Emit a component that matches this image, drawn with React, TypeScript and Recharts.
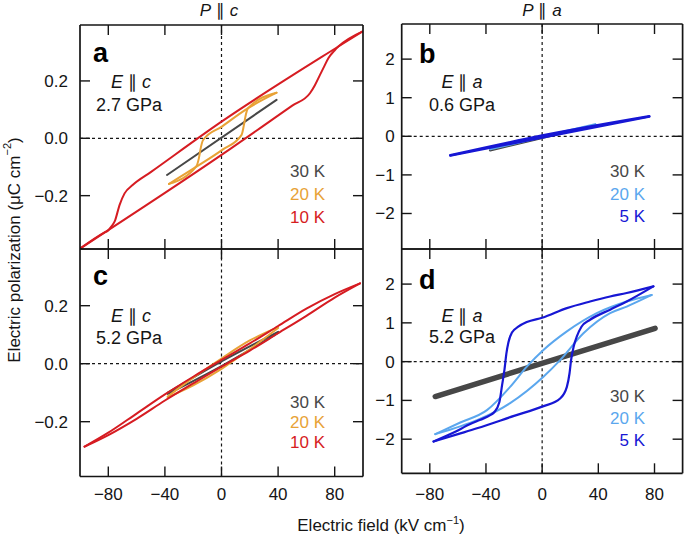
import React from 'react';
import { LineChart, Line, XAxis, YAxis, ReferenceLine } from 'recharts';

type Pt = [number, number];

// ---------- tick values ----------
const xTicks = [-80, -40, 0, 40, 80];
const yTicksC = [-0.2, 0, 0.2];
const yTicksA = [-2, -1, 0, 1, 2];

// ---------- panel a : P || c, E || c, 2.7 GPa ----------
const a30K: Pt[] = [[-38.5, -0.128], [38.9, 0.134]];
const a20KHi: Pt[] = [[-37.1, -0.159], [-17.7, -0.097], [-16, -0.07], [-14.5, -0.03], [-13, -0.006], [0, 0.04], [18.8, 0.105], [38.9, 0.159]];
const a20KLo: Pt[] = [[-37.1, -0.159], [-17.7, -0.099], [0, -0.042], [14.2, 0.012], [15.8, 0.045], [17.3, 0.085], [18.8, 0.105], [38.9, 0.159]];
const a10KHi: Pt[] = [[-99.5, -0.383], [-82.6, -0.328], [-80.3, -0.322], [-77.8, -0.307], [-75.5, -0.29], [-72, -0.232], [-68.5, -0.192], [-62.8, -0.163], [-50, -0.118], [0, 0.058], [82.6, 0.32], [99.5, 0.372]];
const a10KLo: Pt[] = [[-99.5, -0.383], [0, -0.058], [50, 0.114], [62.5, 0.157], [66, 0.185], [69.6, 0.221], [72.5, 0.25], [75.5, 0.279], [80.2, 0.308], [82.6, 0.32], [99.5, 0.372]];

// ---------- panel b : P || a, E || a, 0.6 GPa ----------
const b30K: Pt[] = [[-37, -0.36], [38, 0.29]];
const b20K: Pt[] = [[-37, -0.33], [37.7, 0.31]];
const b5KHi: Pt[] = [[-65.4, -0.49], [0, 0.02], [76.3, 0.52]];
const b5KLo: Pt[] = [[-65.4, -0.5], [0, -0.03], [76.3, 0.51]];

// ---------- panel c : P || c, E || c, 5.2 GPa ----------
const c30KHi: Pt[] = [[-38, -0.1], [0, 0.008], [40, 0.11]];
const c30KLo: Pt[] = [[-38, -0.104], [0, -0.008], [40, 0.106]];
const c20KHi: Pt[] = [[-38, -0.113], [-20, -0.048], [0, 0.018], [20, 0.08], [40, 0.126]];
const c20KLo: Pt[] = [[-38, -0.116], [-20, -0.075], [0, -0.018], [20, 0.05], [40, 0.123]];
const c10KHi: Pt[] = [[-96.8, -0.286], [-80, -0.238], [-60, -0.172], [-40, -0.106], [-20, -0.045], [0, 0.013], [20, 0.07], [40, 0.13], [60, 0.19], [80, 0.24], [97.9, 0.277]];
const c10KLo: Pt[] = [[-96.8, -0.286], [-80, -0.246], [-60, -0.19], [-40, -0.127], [-20, -0.068], [0, -0.01], [20, 0.045], [40, 0.105], [60, 0.165], [80, 0.228], [97.9, 0.277]];

// ---------- panel d : P || a, E || a, 5.2 GPa ----------
const d30K: Pt[] = [[-76.1, -0.9], [80.4, 0.86]];
const d20KHi: Pt[] = [[-76.1, -1.87], [-58.3, -1.57], [-39.3, -1.25], [-22.8, -0.65], [-10.9, -0.13], [0.9, 0.3], [17.6, 0.78], [38.9, 1.25], [60.2, 1.55], [78, 1.72]];
const d20KLo: Pt[] = [[-76.1, -1.87], [-58.3, -1.67], [-46.4, -1.51], [-22.8, -1.07], [0.9, -0.39], [12.8, 0.04], [29.4, 0.73], [48.4, 1.25], [60.2, 1.42], [78, 1.72]];
const d5KHi: Pt[] = [[-77.3, -2.06], [-63, -1.83], [-51.2, -1.61], [-44, -1.5], [-37, -1.38], [-34, -1.3], [-30.5, -1.05], [-28.5, -0.6], [-26.8, -0.2], [-25.5, 0.2], [-24, 0.5], [-21.5, 0.75], [-17, 0.9], [-10.9, 1.02], [0, 1.13], [17.6, 1.38], [34.1, 1.55], [48.4, 1.68], [60.2, 1.77], [79.2, 1.94]];
const d5KLo: Pt[] = [[-77.3, -2.06], [-60, -1.87], [-46.4, -1.72], [-20, -1.4], [0, -1.16], [12.8, -0.95], [17.6, -0.65], [19.5, -0.3], [20.6, 0.04], [22.5, 0.4], [24.7, 0.65], [28, 0.9], [34.1, 1.08], [48.4, 1.34], [60.2, 1.55], [79.2, 1.94]];

// ---------- colours ----------
const GRAY = '#474747';
const ORANGE = '#e8a236';
const RED = '#d61c22';
const LIGHTBLUE = '#5ba7ee';
const BLUE = '#1717d4';
const INK = '#151515';

const W = 685;
const H = 535;
const TICK = 10;
const FONT = "'Liberation Sans', Arial, Helvetica, sans-serif";

interface Series { data: Pt[]; color: string; width: number; }
interface PanelProps {
  left: number; right: number; top: number; bottom: number;
  yDomain: [number, number]; yTicks: number[]; fmt: (v: number) => string;
  showXLabels: boolean; yGap: number; series: Series[];
}

const minus = (s: string) => s.replace('-', '\u2212');
const fmtC = (v: number) => minus(v.toFixed(1));
const fmtA = (v: number) => minus(String(v));

function Panel(p: PanelProps) {
  const cx = (t: any) => (t.payload && typeof t.payload.coordinate === 'number' ? t.payload.coordinate : t.x);
  const cy = (t: any) => (t.payload && typeof t.payload.coordinate === 'number' ? t.payload.coordinate : t.y);
  const BottomTick = (t: any) => {
    const x = cx(t);
    return (
      <g>
        <line x1={x} x2={x} y1={p.bottom} y2={p.bottom - TICK} stroke={INK} strokeWidth={1.4} />
        {p.showXLabels && (
          <text x={x} y={500} textAnchor="middle" fontSize={17} fill={INK} fontFamily={FONT}>
            {minus(String(t.payload.value))}
          </text>
        )}
      </g>
    );
  };
  const TopTick = (t: any) => {
    const x = cx(t);
    return <line x1={x} x2={x} y1={p.top} y2={p.top + TICK} stroke={INK} strokeWidth={1.4} />;
  };
  const LeftTick = (t: any) => {
    const y = cy(t);
    return (
      <g>
        <line x1={p.left} x2={p.left + TICK} y1={y} y2={y} stroke={INK} strokeWidth={1.4} />
        <text x={p.left - p.yGap} y={y + 6} textAnchor="end" fontSize={17} fill={INK} fontFamily={FONT}>
          {p.fmt(t.payload.value)}
        </text>
      </g>
    );
  };
  const RightTick = (t: any) => {
    const y = cy(t);
    return <line x1={p.right} x2={p.right - TICK} y1={y} y2={y} stroke={INK} strokeWidth={1.4} />;
  };
  const axisLine = { stroke: INK, strokeWidth: 1.7 };
  return (
    <div style={{ position: 'absolute', left: 0, top: 0 }}>
      <LineChart
        width={W}
        height={H}
        margin={{ top: p.top - 1, left: p.left - 1, right: W - p.right - 1, bottom: H - p.bottom - 1 }}
      >
        <XAxis type="number" dataKey="x" domain={[-100, 100]} ticks={xTicks} height={1}
          tickSize={0} tickMargin={0} tickLine={false} tick={BottomTick} axisLine={axisLine}
          allowDataOverflow interval={0} />
        <XAxis xAxisId="top" orientation="top" type="number" dataKey="x" domain={[-100, 100]} ticks={xTicks}
          height={1} tickSize={0} tickMargin={0} tickLine={false} tick={TopTick} axisLine={axisLine}
          allowDataOverflow interval={0} />
        <YAxis type="number" domain={p.yDomain} ticks={p.yTicks} width={1} tickSize={0} tickMargin={0}
          tickLine={false} tick={LeftTick} axisLine={axisLine} allowDataOverflow interval={0} />
        <YAxis yAxisId="right" orientation="right" type="number" domain={p.yDomain} ticks={p.yTicks}
          width={1} tickSize={0} tickMargin={0} tickLine={false} tick={RightTick} axisLine={axisLine}
          allowDataOverflow interval={0} />
        <ReferenceLine x={0} stroke={INK} strokeWidth={1.2} strokeDasharray="3 3" />
        <ReferenceLine y={0} stroke={INK} strokeWidth={1.2} strokeDasharray="3 3" />
        {p.series.map((s, i) => (
          <Line
            key={i}
            data={s.data.map(([x, y]) => ({ x, y }))}
            dataKey="y"
            type="monotone"
            stroke={s.color}
            strokeWidth={s.width}
            strokeLinejoin="round"
            strokeLinecap="round"
            dot={false}
            activeDot={false}
            isAnimationActive={false}
          />
        ))}
      </LineChart>
    </div>
  );
}

const Rel = ({ axis, x, y, size = 17 }: { axis: string; x: number; y: number; size?: number }) => (
  <text x={x} y={y} textAnchor="middle" fontSize={size} fill={INK}>
    <tspan fontStyle="italic">{axis[0]}</tspan>
    <tspan>{' \u2225 '}</tspan>
    <tspan fontStyle="italic">{axis[1]}</tspan>
  </text>
);

const Legend = ({ items, x, ys }: { items: [string, string][]; x: number; ys: number[] }) => (
  <g>
    {items.map(([label, color], i) => (
      <text key={label} x={x} y={ys[i]} textAnchor="end" fontSize={17} fill={color}>{label}</text>
    ))}
  </g>
);

export default function App() {
  return (
    <div style={{ position: 'absolute', left: 0, top: 0, width: W, height: H, background: '#fff', fontFamily: FONT }}>
      <Panel left={80} right={363} top={25} bottom={249} yDomain={[-0.386, 0.395]} yTicks={yTicksC}
        fmt={fmtC} showXLabels={false} yGap={12}
        series={[
          { data: a30K, color: GRAY, width: 2 },
          { data: a20KHi, color: ORANGE, width: 2 },
          { data: a20KLo, color: ORANGE, width: 2 },
          { data: a10KHi, color: RED, width: 2 },
          { data: a10KLo, color: RED, width: 2 },
        ]} />
      <Panel left={80} right={363} top={249} bottom={476.5} yDomain={[-0.389, 0.3955]} yTicks={yTicksC}
        fmt={fmtC} showXLabels={true} yGap={12}
        series={[
          { data: c30KHi, color: GRAY, width: 2 },
          { data: c30KLo, color: GRAY, width: 2 },
          { data: c20KHi, color: ORANGE, width: 2 },
          { data: c20KLo, color: ORANGE, width: 2 },
          { data: c10KHi, color: RED, width: 2 },
          { data: c10KLo, color: RED, width: 2 },
        ]} />
      <Panel left={401.7} right={682.6} top={24} bottom={249} yDomain={[-2.92, 2.91]} yTicks={yTicksA}
        fmt={fmtA} showXLabels={false} yGap={7}
        series={[
          { data: b30K, color: GRAY, width: 2.5 },
          { data: b20K, color: LIGHTBLUE, width: 2.5 },
          { data: b5KHi, color: BLUE, width: 2.4 },
          { data: b5KLo, color: BLUE, width: 2.4 },
        ]} />
      <Panel left={401.7} right={682.6} top={249} bottom={473.3} yDomain={[-2.88, 2.905]} yTicks={yTicksA}
        fmt={fmtA} showXLabels={true} yGap={7}
        series={[
          { data: d30K, color: GRAY, width: 5.5 },
          { data: d20KHi, color: LIGHTBLUE, width: 2 },
          { data: d20KLo, color: LIGHTBLUE, width: 2 },
          { data: d5KHi, color: BLUE, width: 2.2 },
          { data: d5KLo, color: BLUE, width: 2.2 },
        ]} />
      <svg width={W} height={H} style={{ position: 'absolute', left: 0, top: 0, pointerEvents: 'none' }} fontFamily={FONT}>
        {/* column titles */}
        <Rel axis="Pc" x={219} y={16} />
        <Rel axis="Pa" x={542} y={16} />
        {/* panel letters */}
        <text x={93} y={62} fontSize={27} fontWeight="bold" fill="#000">a</text>
        <text x={419} y={63} fontSize={27} fontWeight="bold" fill="#000">b</text>
        <text x={93} y={285} fontSize={27} fontWeight="bold" fill="#000">c</text>
        <text x={419} y={289} fontSize={27} fontWeight="bold" fill="#000">d</text>
        {/* conditions */}
        <Rel axis="Ec" x={131} y={88} size={18} />
        <text x={129} y={111} textAnchor="middle" fontSize={18} fill={INK}>2.7 GPa</text>
        <Rel axis="Ea" x={462} y={88} size={18} />
        <text x={462} y={111} textAnchor="middle" fontSize={18} fill={INK}>0.6 GPa</text>
        <Rel axis="Ec" x={131} y={321.5} size={18} />
        <text x={129} y={343.5} textAnchor="middle" fontSize={18} fill={INK}>5.2 GPa</text>
        <Rel axis="Ea" x={462} y={321.5} size={18} />
        <text x={462} y={343} textAnchor="middle" fontSize={18} fill={INK}>5.2 GPa</text>
        {/* legends */}
        <Legend x={325} ys={[176.5, 200, 223]} items={[['30 K', GRAY], ['20 K', ORANGE], ['10 K', RED]]} />
        <Legend x={645} ys={[177, 200, 222]} items={[['30 K', GRAY], ['20 K', LIGHTBLUE], ['5 K', BLUE]]} />
        <Legend x={325} ys={[408, 428, 448]} items={[['30 K', GRAY], ['20 K', ORANGE], ['10 K', RED]]} />
        <Legend x={645} ys={[401.5, 424, 445.5]} items={[['30 K', GRAY], ['20 K', LIGHTBLUE], ['5 K', BLUE]]} />
        {/* axis titles */}
        <text x={381} y={531} textAnchor="middle" fontSize={17} fill={INK}>
          Electric field (kV cm<tspan dy={-7} fontSize={11}>{'\u22121'}</tspan><tspan dy={7}>)</tspan>
        </text>
        <text x={14} y={250} textAnchor="middle" dominantBaseline="central" fontSize={17} fill={INK}
          transform="rotate(-90 14 250)">
          Electric polarization ({'\u03bc'}C cm<tspan dy={-7} fontSize={11}>{'\u22122'}</tspan><tspan dy={7}>)</tspan>
        </text>
      </svg>
    </div>
  );
}
